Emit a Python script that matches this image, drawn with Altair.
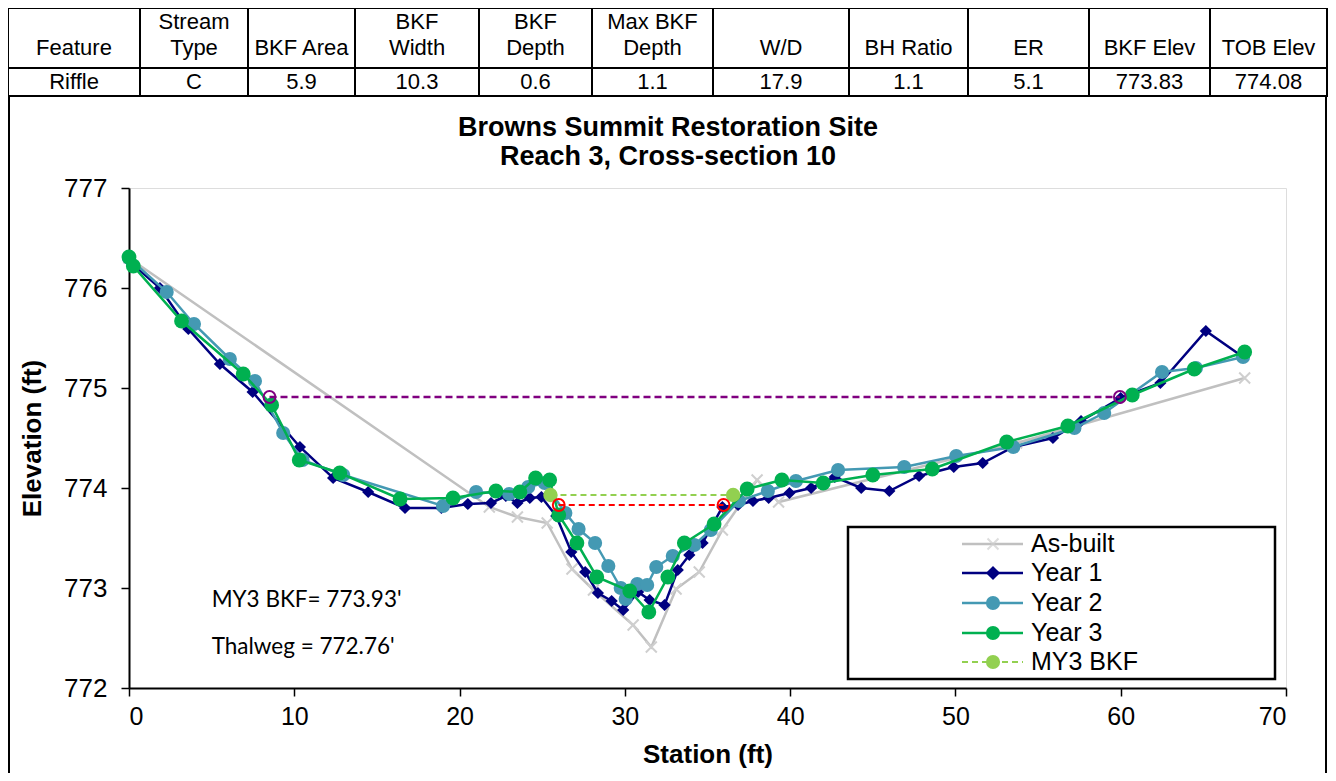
import altair as alt
import pandas as pd

FONT = "Liberation Sans, Arial, sans-serif"
NARROW = "Liberation Sans Narrow, Arial Narrow, Liberation Sans, sans-serif"
NOTE_FONT = "Lato, Open Sans, sans-serif"

# ---------------- data ----------------
table_head1 = ["", "Stream", "", "BKF", "BKF", "Max BKF", "", "", "", "", ""]
table_head2 = ["Feature", "Type", "BKF Area", "Width", "Depth", "Depth", "W/D", "BH Ratio", "ER", "BKF Elev", "TOB Elev"]
table_vals = ["Riffle", "C", "5.9", "10.3", "0.6", "1.1", "17.9", "1.1", "5.1", "773.83", "774.08"]

asbuilt_x = [0.0, 21.8, 23.5, 25.3, 26.8, 28.1, 30.5, 31.6, 33.1, 34.5, 35.9, 38.0, 39.3, 53.7, 67.5]
asbuilt_y = [776.30, 773.81, 773.71, 773.65, 773.19, 772.98, 772.63, 772.41, 772.99, 773.16, 773.58, 774.08, 773.86, 774.45, 775.10]

year1_x = [0.0, 1.87, 3.59, 5.5, 7.48, 10.34, 12.35, 14.47, 16.7, 18.9, 20.5, 21.9, 22.8, 23.5, 24.25, 24.95,
           25.85, 26.76, 27.6, 28.37, 29.2, 29.9, 30.8, 31.5, 32.4, 33.2, 33.9, 34.7, 35.9, 36.85, 37.75, 38.7,
           39.96, 41.27, 42.7, 44.3, 46.0, 47.8, 49.9, 51.65, 53.5, 55.9, 57.6, 60.0, 62.4, 65.15, 67.4]
year1_y = [776.27, 776.0, 775.59, 775.24, 774.96, 774.41, 774.1, 773.96, 773.8, 773.8, 773.84, 773.85, 773.92, 773.85, 773.9, 773.91,
           773.72, 773.36, 773.16, 772.95, 772.87, 772.78, 772.96, 772.88, 772.83, 773.18, 773.33, 773.45, 773.81, 773.83, 773.87, 773.9,
           773.95, 774.0, 774.11, 774.0, 773.97, 774.12, 774.21, 774.25, 774.41, 774.5, 774.67, 774.9, 775.05, 775.57, 775.31]

year2_x = [0.0, 2.28, 3.93, 6.1, 7.62, 9.33, 10.5, 12.96, 19.0, 21.0, 23.0, 24.15, 25.15, 26.4, 27.2, 28.2, 29.0,
           29.75, 30.05, 30.75, 31.35, 31.9, 32.9, 34.2, 35.2, 36.9, 38.65, 40.35, 42.9, 46.9, 50.05, 53.5, 57.2,
           59.0, 62.5, 64.55, 67.4]
year2_y = [776.3, 775.96, 775.64, 775.29, 775.07, 774.55, 774.28, 774.13, 773.82, 773.96, 773.94, 774.01, 774.05, 773.75, 773.59, 773.45, 773.22,
           773.0, 772.89, 773.04, 773.03, 773.21, 773.32, 773.43, 773.58, 773.87, 773.97, 774.07, 774.18, 774.21, 774.32, 774.41, 774.6,
           774.75, 775.16, 775.2, 775.31]

year3_x = [0.0, 0.26, 3.18, 6.91, 8.63, 10.3, 12.75, 16.4, 19.6, 22.2, 23.65, 24.6, 25.45, 26.0, 27.1, 28.3, 30.3,
           31.45, 32.6, 33.6, 35.4, 37.4, 39.5, 42.0, 45.0, 48.6, 53.1, 56.8, 60.7, 64.45, 67.5]
year3_y = [776.31, 776.22, 775.67, 775.14, 774.83, 774.28, 774.15, 773.89, 773.9, 773.97, 773.96, 774.1, 774.08, 773.73, 773.45, 773.11, 772.97,
           772.76, 773.11, 773.45, 773.64, 773.99, 774.08, 774.05, 774.13, 774.19, 774.46, 774.62, 774.93, 775.19, 775.36]

my3bkf_x = [25.5, 36.55]
my3bkf_y = [773.93, 773.93]
bkf_x = [26.0, 35.97]
bkf_y = [773.83, 773.83]
tob_x = [8.5, 59.95]
tob_y = [774.91, 774.91]

notes = ["MY3 BKF= 773.93'", "Thalweg = 772.76'"]
notes_x = [5.0, 5.0]
notes_y = [772.88, 772.41]

legend_names = ["As-built", "Year 1", "Year 2", "Year 3", "MY3 BKF"]
legend_colors = ["#c0c0c0", "#000080", "#4499b3", "#00b050", "#92d050"]
legend_shapes = ["M-1,-1L1,1M-1,1L1,-1", "diamond", "circle", "circle", "circle"]

title_lines = ["Browns Summit Restoration Site", "Reach 3, Cross-section 10"]

# ---------------- layout (pixels relative to plot-area origin) ----------------
W, H = 1157, 500
OX, OY = 129, 188
col_edges = [8, 140, 248, 355, 479, 592, 713, 849, 968, 1089, 1210, 1327]
row_edges = [8, 68, 96]

cells = []
texts = []
for i in range(len(table_head2)):
    x0, x1 = col_edges[i] - OX, col_edges[i + 1] - OX
    cx = (x0 + x1) / 2
    for r in range(2):
        cells.append({"x": x0, "x2": x1, "y": row_edges[r] - OY, "y2": row_edges[r + 1] - OY})
    if table_head1[i]:
        texts.append({"cx": cx, "cy": 22 - OY, "t": table_head1[i]})
    texts.append({"cx": cx, "cy": 48 - OY, "t": table_head2[i]})
    texts.append({"cx": cx, "cy": 82 - OY, "t": table_vals[i]})
cells_df = pd.DataFrame(cells)
texts_df = pd.DataFrame(texts)

leg_rows = [544, 573, 603, 633, 662]
leg_df = pd.DataFrame({
    "name": legend_names,
    "color": legend_colors,
    "shape": legend_shapes,
    "y": [r - OY for r in leg_rows],
    "lx0": [962 - OX] * 5,
    "lx1": [1023 - OX] * 5,
    "mx": [993 - OX] * 5,
    "tx": [1031 - OX] * 5,
})

# ---------------- encodings ----------------
xaxis = alt.Axis(values=list(range(0, 71, 10)), title="Station (ft)", grid=False,
                 labelFont=FONT, labelFontSize=25, labelColor="black", labelPadding=8,
                 titleFont=FONT, titleFontSize=26, titleFontWeight="bold", titleColor="black", titlePadding=12,
                 domainColor="black", domainWidth=2, tickColor="black", tickWidth=1.5, tickSize=8)
yaxis = alt.Axis(values=list(range(772, 778)), title="Elevation (ft)", grid=False,
                 labelFont=FONT, labelFontSize=26, labelColor="black", labelPadding=14,
                 titleFont=FONT, titleFontSize=26, titleFontWeight="bold", titleColor="black", titlePadding=18,
                 domainColor="black", domainWidth=2, tickColor="black", tickWidth=1.5, tickSize=8)
xs = alt.Scale(domain=[0, 70], nice=False, zero=False)
ys = alt.Scale(domain=[772, 777], nice=False, zero=False)


def X():
    return alt.X("x:Q", scale=xs, axis=xaxis)


def Y():
    return alt.Y("y:Q", scale=ys, axis=yaxis)


def sdf(a, b):
    return pd.DataFrame({"x": a, "y": b})


def series(xv, yv, color, shape, size, filled=True, dash=None, sw=2.5, mcolor=None, mstroke=None):
    d = sdf(xv, yv)
    lkw = dict(color=color, strokeWidth=sw)
    if dash:
        lkw["strokeDash"] = dash
    line = alt.Chart(d).mark_line(**lkw).encode(x=X(), y=Y())
    pkw = dict(shape=shape, size=size, filled=filled, opacity=1)
    if filled:
        pkw["fill"] = mcolor or color
        pkw["strokeWidth"] = 0
    else:
        pkw["stroke"] = mcolor or color
        pkw["strokeWidth"] = mstroke or 2
    pts = alt.Chart(d).mark_point(**pkw).encode(x=X(), y=Y())
    return [line, pts]


layers = []
layers += series(asbuilt_x, asbuilt_y, "#c0c0c0", "M-1,-1L1,1M-1,1L1,-1", 120, filled=False, mcolor="#cfcfcf")
layers += series(year1_x, year1_y, "#000080", "diamond", 150)
layers += series(year2_x, year2_y, "#4499b3", "circle", 200)
layers += series(year3_x, year3_y, "#00b050", "circle", 220)
layers += series(my3bkf_x, my3bkf_y, "#92d050", "circle", 210, dash=[6, 4], sw=2)
layers += series(bkf_x, bkf_y, "#ff0000", "circle", 140, filled=False, dash=[6, 4], sw=2)
layers += series(tob_x, tob_y, "#800080", "circle", 140, filled=False, dash=[7, 4], sw=2.5)

notes_df = pd.DataFrame({"x": notes_x, "y": notes_y, "t": notes})
layers.append(alt.Chart(notes_df).mark_text(font=NOTE_FONT, fontSize=22.5, align="left", baseline="middle",
                                            color="black").encode(x=X(), y=Y(), text="t:N"))

# ---------------- table ----------------
layers.append(alt.Chart(cells_df).mark_rect(fill="white", stroke="black", strokeWidth=2).encode(
    x=alt.X("x:Q", scale=None), x2="x2:Q", y=alt.Y("y:Q", scale=None), y2="y2:Q"))
layers.append(alt.Chart(texts_df).mark_text(font=NARROW, fontSize=22, align="center", baseline="middle",
                                            color="black").encode(
    x=alt.X("cx:Q", scale=None), y=alt.Y("cy:Q", scale=None), text="t:N"))

# outer box (left and right sides)
box_df = pd.DataFrame({"x": [8 - OX + 1, 1327 - OX - 1], "y": [96 - OY, 96 - OY], "y2": [773 - OY, 773 - OY]})
layers.append(alt.Chart(box_df).mark_rule(color="black", strokeWidth=2).encode(
    x=alt.X("x:Q", scale=None), y=alt.Y("y:Q", scale=None), y2="y2:Q"))

# title
title_df = pd.DataFrame({"t": title_lines, "x": [668 - OX] * 2, "y": [128 - OY, 157 - OY]})
layers.append(alt.Chart(title_df).mark_text(font=FONT, fontSize=27, fontWeight="bold", align="center",
                                            baseline="middle", color="black").encode(
    x=alt.X("x:Q", scale=None), y=alt.Y("y:Q", scale=None), text="t:N"))

# ---------------- legend ----------------
legbox = pd.DataFrame({"x": [848 - OX], "x2": [1275 - OX], "y": [527 - OY], "y2": [679 - OY]})
layers.append(alt.Chart(legbox).mark_rect(fill="white", stroke="black", strokeWidth=2.5).encode(
    x=alt.X("x:Q", scale=None), x2="x2:Q", y=alt.Y("y:Q", scale=None), y2="y2:Q"))
solid = leg_df[leg_df["name"] != "MY3 BKF"]
dashed = leg_df[leg_df["name"] == "MY3 BKF"]
layers.append(alt.Chart(solid).mark_rule(strokeWidth=2.5).encode(
    x=alt.X("lx0:Q", scale=None), x2="lx1:Q", y=alt.Y("y:Q", scale=None),
    color=alt.Color("color:N", scale=None)))
layers.append(alt.Chart(dashed).mark_rule(strokeWidth=2, strokeDash=[6, 4]).encode(
    x=alt.X("lx0:Q", scale=None), x2="lx1:Q", y=alt.Y("y:Q", scale=None),
    color=alt.Color("color:N", scale=None)))
cross = leg_df[leg_df["name"] == "As-built"]
fills = leg_df[leg_df["name"] != "As-built"]
layers.append(alt.Chart(cross).mark_point(filled=False, size=120, strokeWidth=2, stroke="#cfcfcf",
                                          shape="M-1,-1L1,1M-1,1L1,-1").encode(
    x=alt.X("mx:Q", scale=None), y=alt.Y("y:Q", scale=None)))
layers.append(alt.Chart(fills).mark_point(filled=True, opacity=1, strokeWidth=0).encode(
    x=alt.X("mx:Q", scale=None), y=alt.Y("y:Q", scale=None),
    fill=alt.Fill("color:N", scale=None), shape=alt.Shape("shape:N", scale=None),
    size=alt.value(200)))
layers.append(alt.Chart(leg_df).mark_text(font=FONT, fontSize=25, align="left", baseline="middle",
                                          color="black").encode(
    x=alt.X("tx:Q", scale=None), y=alt.Y("y:Q", scale=None), text="name:N"))

chart = alt.layer(*layers).properties(
    width=W, height=H,
    autosize=alt.AutoSizeParams(type="none"),
    padding={"left": 121, "top": 180, "right": 42, "bottom": 85},
).configure_view(stroke="#a6a6a6", strokeWidth=2).configure(background="white")

chart.save("out.html", embed_options={"renderer": "svg", "actions": False})
